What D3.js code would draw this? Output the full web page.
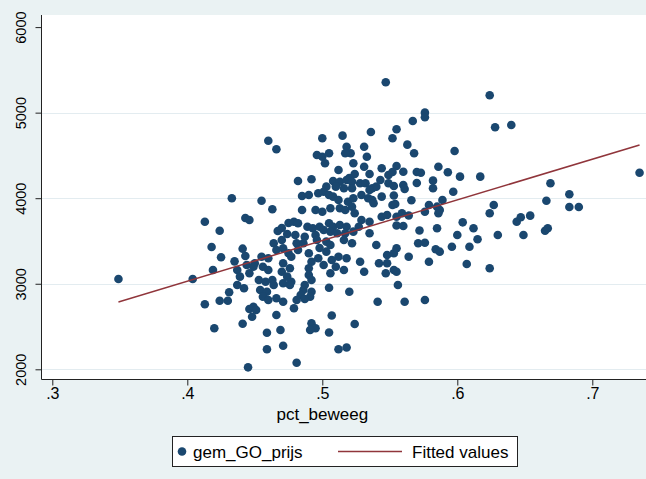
<!DOCTYPE html>
<html>
<head>
<meta charset="utf-8">
<script src="https://cdn.jsdelivr.net/npm/d3@7"></script>
<style>
  body { margin: 0; background: #eaf2f3; }
  text { font-family: "Liberation Sans", Arial, sans-serif; fill: #000; }
</style>
</head>
<body>
<div id="chart"></div>
<script>
// pct_beweeg (x) and gem_GO_prijs (y)
var pctBeweeg = [
  .349,.404,.433,.413,.443,.446,.424,.418,.425,.441,.443,.435,.419,.413,.424,.430,.431,.420,.441,.446,.445,.437,.439,.444,.442,.446,.437,
  .460,.466,.455,.463,.467,.470,.475,.474,.470,.464,.466,.471,.475,.455,.460,.450,.456,.460,.449,.471,.470,.474,.471,.453,.458,.463,.454,.459,.464,.456,.460,.466,.471,.449,.451,.448,.466,.459,.469,.459,.471,
  .547,.500,.515,.536,.496,.500,.505,.502,.518,.521,.517,.523,.533,.531,.512,.531,.544,.549,.535,.543,.549,.524,.520,.482,.492,.508,.513,.518,.522,.528,.532,.503,.510,.516,.522,.537,.540,.535,
  .485,.490,.497,.501,.505,.508,.512,.519,.523,.529,.534,.537,.544,.538,.485,.495,.500,.506,.513,.517,.522,.524,.529,.535,.544,.548,.479,.482,.489,.493,.498,.505,.508,.513,.518,.501,.506,.511,.517,.523,.480,.487,.495,.496,.527,.535,.481,.486,.503,.506,.516,.522,.540,
  .477,.476,.477,.476,.490,.492,.490,.490,.492,.487,.486,.492,.484,.491,.481,.487,.479,.492,.495,.491,.505,.507,.505,.520,.524,.512,.518,.481,.528,.531,.503,.497,.507,.512,.518,.501,.510,.516,.506,.548,.542,.547,.548,.541,.482,.498,
  .567,.555,.552,.563,.568,.555,.552,.560,.570,.553,.560,.561,.570,.553,.554,.552,.566,.555,.559,.564,.555,.560,.572,.571,.553,.555,.553,.555,.564,.556,.561,
  .624,.576,.576,.628,.640,.598,.586,.593,.602,.617,.573,.582,.582,.597,.589,.579,.576,.585,.586,.587,.585,.576,.584,.587,.596,.600,.604,.612,.615,.609,.579,.607,.624,.624,.627,.630,.644,.647,.654,.649,.666,.669,.665,.667,.683,.683,.690,.735,.576
];
var gemGoPrijs = [
  3056,3056,4000,3725,3769,3745,3620,3430,3309,3410,3324,3262,3161,2760,2802,2802,2900,2479,2533,2705,2023,3161,3083,3219,2947,3122,2985,
  4672,4572,3971,3870,3617,3652,3710,3582,3512,3473,3395,3414,3356,3316,3298,3239,3199,3161,3199,3239,3141,3083,3005,3044,3024,3044,2927,2907,2985,2849,2810,2830,2790,2732,2693,2615,2635,2428,2459,2234,2276,
  5355,4700,4731,4774,4505,4485,4525,4408,4602,4525,4525,4408,4485,4602,4330,4368,4350,4271,4283,4213,4174,4283,4236,4201,4221,4201,4193,4213,4193,4174,4174,4135,4135,4116,4116,4116,4135,4096,
  4026,4038,4057,4076,4038,4018,3979,3959,3999,4038,3999,3979,4018,3941,3862,3862,3842,3882,3882,3862,3901,3824,3745,3725,3784,3804,3725,3707,3667,3648,3667,3707,3667,3687,3667,3628,3609,3590,3590,3609,3570,3550,3570,3512,3667,3590,3473,3473,3492,3453,3512,3473,3453,
  3316,3181,3024,2985,3356,3258,3181,3102,3044,2985,2927,2907,2869,2849,2810,2822,2713,2538,2479,2459,2430,2629,2954,2907,2530,2234,2255,2077,3258,3141,3375,3298,3278,3316,3298,3219,3199,3161,3122,3336,3239,3122,3239,2790,3395,3418,
  4903,4806,4700,4626,4525,4377,4306,4310,4306,4143,4154,4108,4178,4032,3932,3921,3976,3784,3824,3798,3681,3675,3623,3473,3356,3414,3161,3141,3316,2985,2790,
  5203,5000,4946,4829,4856,4552,4368,4303,4252,4252,4298,4205,4116,4076,3979,3921,3842,3901,3824,3862,3648,3480,3403,3375,3433,3570,3718,3648,3520,3433,3258,3231,3181,3824,3921,3570,3725,3777,3796,3570,3971,4174,3620,3648,4046,3897,3897,4298,2810
];
// fitted values line end points
var fitX = [0.349, 0.735];
var fitY = [2787, 4622];

var xTicks = [0.3, 0.4, 0.5, 0.6, 0.7];
var yTicks = [2000, 3000, 4000, 5000, 6000];
var gridTicks = [2000, 3000, 4000, 5000];
var legendLabels = ["gem_GO_prijs", "Fitted values"];

var width = 646, height = 479;
var plot = {left: 41.5, top: 15, right: 646, bottom: 379.5};
var navy = "#1a476f", maroon = "#90353b";

var svg = d3.select("#chart").append("svg")
    .attr("width", width)
    .attr("height", height);

svg.append("rect").attr("width", width).attr("height", height).attr("fill", "#eaf2f3");
svg.append("rect")
    .attr("x", plot.left).attr("y", plot.top)
    .attr("width", plot.right - plot.left).attr("height", plot.bottom - plot.top)
    .attr("fill", "#fff");

var x = d3.scaleLinear().domain([0.3, 0.7]).range([52.3, 592.3]);
var y = d3.scaleLinear().domain([2000, 6000]).range([369.3, 27.1]);

// grid lines
svg.selectAll(".grid")
    .data(gridTicks)
  .enter().append("line")
    .attr("x1", plot.left).attr("x2", plot.right)
    .attr("y1", function(d) { return Math.round(y(d)) + 0.5; })
    .attr("y2", function(d) { return Math.round(y(d)) + 0.5; })
    .attr("stroke", "#e3ecf0")
    .attr("stroke-width", 1);

// points
svg.selectAll(".dot")
    .data(pctBeweeg)
  .enter().append("circle")
    .attr("cx", function(d) { return x(d); })
    .attr("cy", function(d, i) { return y(gemGoPrijs[i]); })
    .attr("r", 4.3)
    .attr("fill", navy);

// fitted line
var line = d3.line()
    .x(function(d) { return x(d); })
    .y(function(d, i) { return y(fitY[i]); });
svg.append("path")
    .datum(fitX)
    .attr("d", line)
    .attr("fill", "none")
    .attr("stroke", maroon)
    .attr("stroke-width", 1.5);

// axes
var yAxis = d3.axisLeft(y).tickValues(yTicks).tickSize(6).tickSizeOuter(0).tickFormat(d3.format("d"));
var gy = svg.append("g")
    .attr("transform", "translate(" + plot.left + ",0)")
    .call(yAxis);
gy.select(".domain").remove();
gy.selectAll("line").attr("stroke", "#222");
gy.selectAll("text")
    .attr("x", null).attr("dy", null)
    .attr("transform", "translate(-16,0) rotate(-90)")
    .style("text-anchor", "middle")
    .style("font-size", "14.5px")
    .style("font-family", "'Liberation Sans', Arial, sans-serif")
    .attr("fill", "#000");

var xAxis = d3.axisBottom(x).tickValues(xTicks).tickSize(6).tickSizeOuter(0).tickPadding(2)
    .tickFormat(function(d) { return "." + Math.round(d * 10); });
var gx = svg.append("g")
    .attr("transform", "translate(0," + plot.bottom + ")")
    .call(xAxis);
gx.select(".domain").remove();
gx.selectAll("line").attr("stroke", "#222");
gx.selectAll("text")
    .style("font-size", "16px")
    .style("font-family", "'Liberation Sans', Arial, sans-serif")
    .attr("fill", "#000");

svg.append("line")
    .attr("x1", plot.left).attr("x2", plot.left)
    .attr("y1", plot.top).attr("y2", plot.bottom)
    .attr("stroke", "#222");
svg.append("line")
    .attr("x1", plot.left).attr("x2", plot.right)
    .attr("y1", plot.bottom).attr("y2", plot.bottom)
    .attr("stroke", "#222");

svg.append("text")
    .attr("x", 322.3).attr("y", 420)
    .attr("text-anchor", "middle")
    .style("font-size", "17px")
    .text("pct_beweeg");

// legend
var lg = svg.append("g");
lg.append("rect")
    .attr("x", 172.5).attr("y", 436.5)
    .attr("width", 345).attr("height", 30)
    .attr("fill", "#fff").attr("stroke", "#222");
lg.append("circle").attr("cx", 182).attr("cy", 451.5).attr("r", 4.3).attr("fill", navy);
lg.append("text").attr("x", 193).attr("y", 457.5).style("font-size", "17px").text(legendLabels[0]);
lg.append("line")
    .attr("x1", 338).attr("x2", 402).attr("y1", 451.5).attr("y2", 451.5)
    .attr("stroke", maroon).attr("stroke-width", 1.5);
lg.append("text").attr("x", 412).attr("y", 457.5).style("font-size", "17px").text(legendLabels[1]);
</script>
</body>
</html>
